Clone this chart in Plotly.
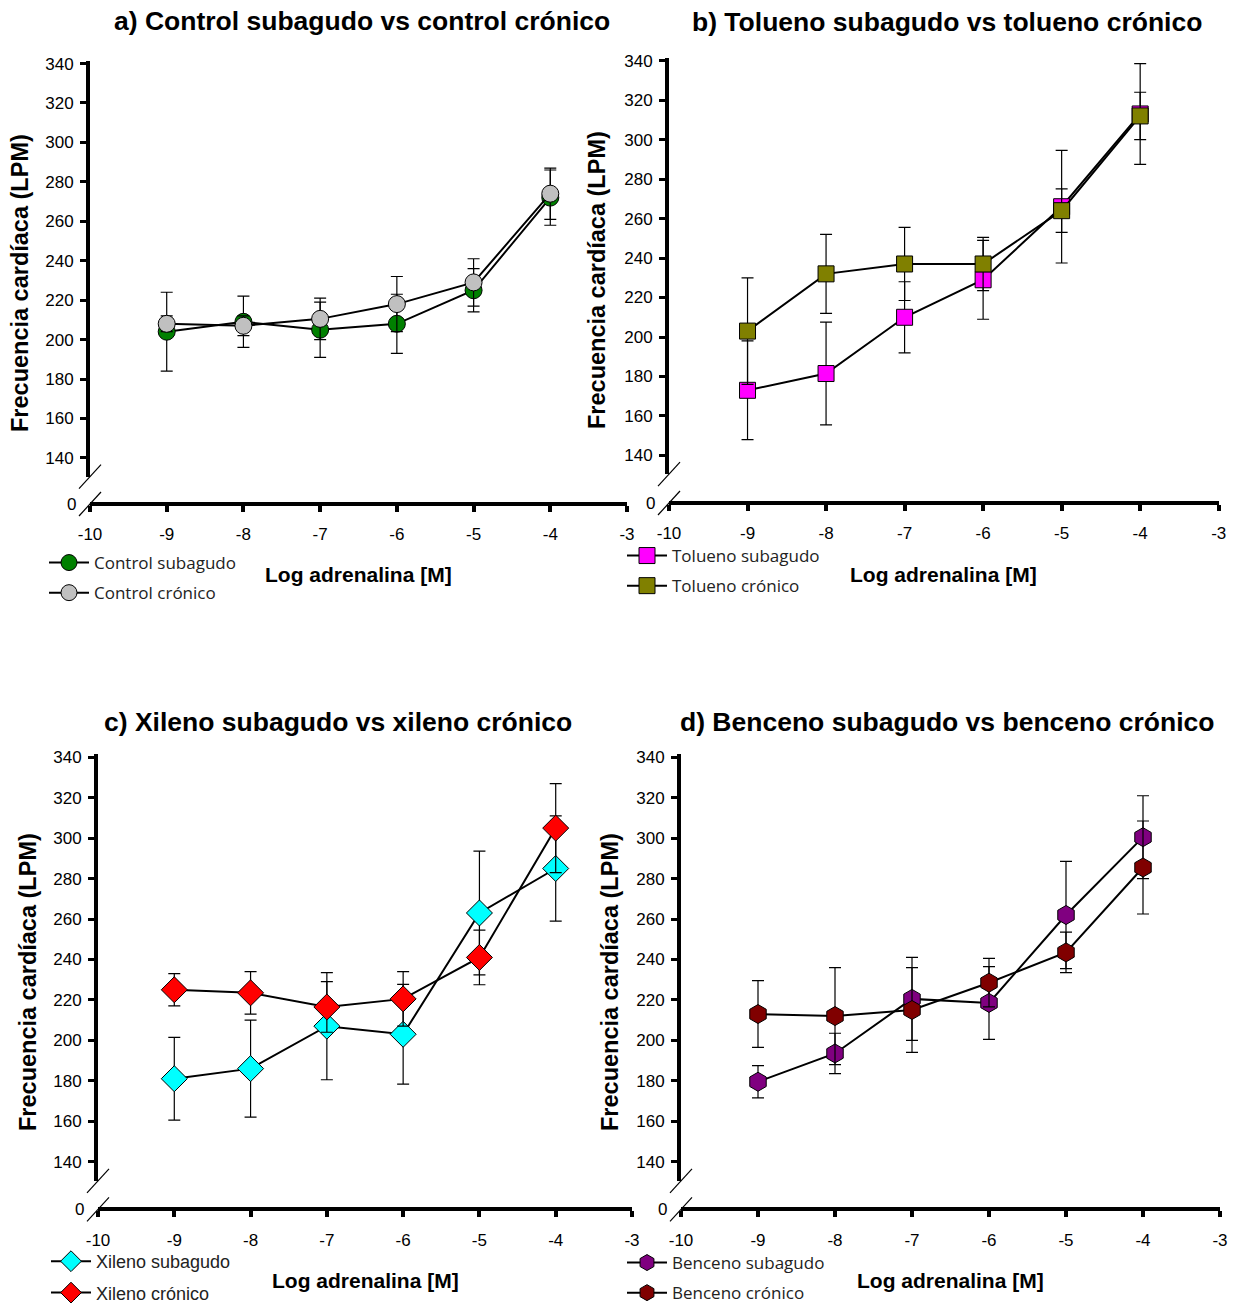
import plotly.graph_objects as go

# ---------------- data ----------------
log_adrenalina = [-9, -8, -7, -6, -5, -4]
x_ticks = [-10, -9, -8, -7, -6, -5, -4, -3]
y_ticks = [140, 160, 180, 200, 220, 240, 260, 280, 300, 320, 340]

control_subagudo = [204, 209, 205, 208, 225, 272]
control_subagudo_err = [20, 13, 14, 15, 11, 14]
control_cronico = [208, 207, 210.5, 218, 229, 274]
control_cronico_err = [4, 5, 10.5, 14, 12, 13]

tolueno_subagudo = [173, 181.5, 210, 229, 266, 313]
tolueno_subagudo_err = [25, 26, 18, 20, 28.5, 25.5]
tolueno_cronico = [203, 232, 237, 237, 264, 312]
tolueno_cronico_err = [27, 20, 18.5, 13.5, 11, 12]

xileno_subagudo = [181, 186, 207, 203, 263, 285]
xileno_subagudo_err = [20.5, 24, 26.5, 24.7, 30.6, 26]
xileno_cronico = [225, 223.5, 216.5, 220.5, 241, 305]
xileno_cronico_err = [8, 10.5, 12.5, 13.5, 13.5, 22]

benceno_subagudo = [179.5, 193.5, 220.5, 218.5, 262, 300.5]
benceno_subagudo_err = [8, 10, 20.5, 18, 26.5, 20.5]
benceno_cronico = [213, 212, 215, 228.5, 243.5, 285.5]
benceno_cronico_err = [16.5, 24, 21, 12, 10, 23]

titles = ["a) Control subagudo vs control crónico",
          "b) Tolueno subagudo vs tolueno crónico",
          "c) Xileno subagudo vs xileno crónico",
          "d) Benceno subagudo vs benceno crónico"]
series_names = [("Control subagudo", "Control crónico"),
                ("Tolueno subagudo", "Tolueno crónico"),
                ("Xileno subagudo", "Xileno crónico"),
                ("Benceno subagudo", "Benceno crónico")]
y_title = "Frecuencia cardíaca (LPM)"
x_title = "Log adrenalina [M]"
axis_zero_label = "0"

# ---------------- styling / geometry ----------------
W, H = 1236, 1304
ARIAL = "Liberation Sans, Arial, sans-serif"
LEG = "Open Sans, Noto Sans, sans-serif"


def xp(px):
    return px / W


def yp(py):
    return 1 - py / H


panel_geo = [
    dict(x0=90, x1=627, ytop=60.6, ybrk=476.6, yax=504, title=(362, 21), ytl=(20, 283),
         leg=(44, 545), legfont=(LEG, 17)),
    dict(x0=669, x1=1218.7, ytop=57.7, ybrk=474.2, yax=503, title=(947, 22), ytl=(597, 280),
         leg=(622, 538), legfont=(LEG, 17)),
    dict(x0=98, x1=632, ytop=754.3, ybrk=1180.8, yax=1209.4, title=(338, 722), ytl=(28, 982),
         leg=(46, 1243), legfont=(ARIAL, 18)),
    dict(x0=681, x1=1220, ytop=754.3, ybrk=1180.8, yax=1209.4, title=(947, 722), ytl=(610, 982),
         leg=(622, 1245), legfont=(LEG, 17)),
]

panel_data = [
    (control_subagudo, control_subagudo_err, control_cronico, control_cronico_err),
    (tolueno_subagudo, tolueno_subagudo_err, tolueno_cronico, tolueno_cronico_err),
    (xileno_subagudo, xileno_subagudo_err, xileno_cronico, xileno_cronico_err),
    (benceno_subagudo, benceno_subagudo_err, benceno_cronico, benceno_cronico_err),
]
marker_styles = [
    (("circle", 17, "#008000"), ("circle", 17, "#C0C0C0")),
    (("square", 16, "#FF00FF"), ("square", 16, "#808000")),
    (("diamond", 20, "#00FFFF"), ("diamond", 20, "#FF0000")),
    (("hexagon", 19, "#800080"), ("hexagon", 19, "#800000")),
]

fig = go.Figure()
layout = dict(width=W, height=H, margin=dict(l=0, r=0, t=0, b=0, autoexpand=False),
              paper_bgcolor="white", plot_bgcolor="rgba(0,0,0,0)",
              showlegend=True)
annotations = []
shapes = []

for i in range(4):
    g = panel_geo[i]
    n = i + 1
    xkey = "xaxis" if n == 1 else f"xaxis{n}"
    ykey = "yaxis" if n == 1 else f"yaxis{n}"
    xref = "x" if n == 1 else f"x{n}"
    yref = "y" if n == 1 else f"y{n}"
    legkey = "legend" if n == 1 else f"legend{n}"

    layout[xkey] = dict(domain=[xp(g["x0"]), xp(g["x1"])], range=[-10, -3],
                        anchor="free", position=yp(g["yax"]),
                        tickmode="array", tickvals=x_ticks, ticktext=[str(v) for v in x_ticks],
                        showline=True, linewidth=4, linecolor="black", ticks="outside",
                        ticklen=6, tickwidth=4, tickcolor="black", showgrid=False, zeroline=False,
                        ticklabelstandoff=8,
                        tickfont=dict(family=ARIAL, size=17, color="black"))
    layout[ykey] = dict(domain=[yp(g["ybrk"]), yp(g["ytop"])], range=[130.5, 341.5], anchor=xref,
                        tickmode="array", tickvals=y_ticks, ticktext=[str(v) for v in y_ticks],
                        showline=True, linewidth=4,
                        linecolor="black", ticks="outside", ticklen=6, tickwidth=3,
                        tickcolor="black", showgrid=False, zeroline=False, ticklabelstandoff=3,
                        tickfont=dict(family=ARIAL, size=17, color="black"))

    s_vals, s_err, c_vals, c_err = panel_data[i]
    for k, (vals, err, name, (sym, size, color)) in enumerate([
        (s_vals, s_err, series_names[i][0], marker_styles[i][0]),
        (c_vals, c_err, series_names[i][1], marker_styles[i][1]),
    ]):
        fig.add_trace(go.Scatter(
            x=log_adrenalina, y=vals, name=name, mode="lines+markers",
            xaxis=xref, yaxis=yref, legend=legkey, legendgroup=f"g{i}{k}",
            line=dict(color="black", width=2),
            marker=dict(symbol=sym, size=size, color=color, line=dict(color="black", width=1)),
            error_y=dict(type="data", array=err, visible=True, color="black", thickness=1.2, width=6),
            cliponaxis=False,
        ))

    lx, ly = g["leg"]
    lfam, lsize = g["legfont"]
    layout[legkey] = dict(x=xp(lx), y=yp(ly), xanchor="left", yanchor="top",
                          bgcolor="rgba(0,0,0,0)", borderwidth=0, itemwidth=40,
                          tracegroupgap=5,
                          font=dict(family=lfam, size=lsize, color="#222222"),
                          traceorder="grouped")

    # panel title
    tx, ty = g["title"]
    annotations.append(dict(text=f"<b>{titles[i]}</b>", x=xp(tx), y=yp(ty), xref="paper",
                            yref="paper", showarrow=False, xanchor="center", yanchor="middle",
                            font=dict(family=ARIAL, size=26.5, color="black")))
    # y title
    ax_, ay_ = g["ytl"]
    annotations.append(dict(text=f"<b>{y_title}</b>", x=xp(ax_), y=yp(ay_), xref="paper",
                            yref="paper", showarrow=False, xanchor="center", yanchor="middle",
                            textangle=-90, font=dict(family=ARIAL, size=23.5, color="black")))
    # x title
    annotations.append(dict(text=f"<b>{x_title}</b>", x=xp((g["x0"] + g["x1"]) / 2),
                            y=yp(g["yax"] + 71), xref="paper", yref="paper", showarrow=False,
                            xanchor="center", yanchor="middle",
                            font=dict(family=ARIAL, size=21, color="black")))
    # "0" label at the origin of the broken axis
    annotations.append(dict(text=axis_zero_label, x=xp(g["x0"] - 12), y=yp(g["yax"]),
                            xref="paper", yref="paper", showarrow=False, xanchor="right",
                            yanchor="middle", font=dict(family=ARIAL, size=17, color="black")))
    # axis break marks
    for cy in (g["ybrk"], g["yax"]):
        shapes.append(dict(type="line", xref="paper", yref="paper",
                           x0=xp(g["x0"] - 11), y0=yp(cy + 12), x1=xp(g["x0"] + 11), y1=yp(cy - 12),
                           line=dict(color="black", width=1.2)))

layout["annotations"] = annotations
layout["shapes"] = shapes
fig.update_layout(**layout)

fig.write_html("out.html", config={"displayModeBar": False},
               post_script="document.body.style.margin='0';")
